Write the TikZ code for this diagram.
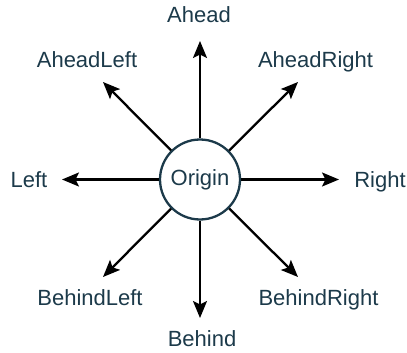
\documentclass[tikz,border=0pt]{standalone}
\usepackage{fontspec}
\setmainfont{Liberation Sans}
\usetikzlibrary{arrows.meta}
\definecolor{ink}{HTML}{1C3A4A}
\begin{document}
\begin{tikzpicture}[x=1pt,y=-1pt,
  lbl/.style={text=ink,font=\fontsize{22}{26}\selectfont,inner sep=0pt,anchor=base},
  dirarrow/.style={draw=black,line width=2.3pt,-{Stealth[length=17pt,width=14pt,inset=3.5pt]}}]
\useasboundingbox (0,0) rectangle (407,353);
\node[circle,draw=ink,line width=2.3pt,fill=white,minimum size=80pt,inner sep=0pt,
  text=ink,font=\fontsize{22}{26}\selectfont] (o) at (200,179.5) {Origin};
\coordinate (tU) at (200,41);
\coordinate (tD) at (200,318);
\coordinate (tL) at (62,179.5);
\coordinate (tR) at (339,179.5);
\coordinate (tAL) at (103,82);
\coordinate (tAR) at (298,82);
\coordinate (tBL) at (103,277);
\coordinate (tBR) at (298,277);
\draw[dirarrow] (o) -- (tU);
\draw[dirarrow] (o) -- (tD);
\draw[dirarrow] (o) -- (tL);
\draw[dirarrow] (o) -- (tR);
\draw[dirarrow] (o) -- (tAL);
\draw[dirarrow] (o) -- (tAR);
\draw[dirarrow] (o) -- (tBL);
\draw[dirarrow] (o) -- (tBR);
\node[lbl] (ahead) at (199,23) {Ahead};
\node[lbl] (aheadleft) at (87,68) {AheadLeft};
\node[lbl] (aheadright) at (315.5,68) {AheadRight};
\node[lbl] (left) at (29,187.5) {Left};
\node[lbl] (right) at (380,187.5) {Right};
\node[lbl] (behindleft) at (90,305) {BehindLeft};
\node[lbl] (behindright) at (318.5,305) {BehindRight};
\node[lbl] (behind) at (202,346) {Behind};
\end{tikzpicture}
\end{document}
